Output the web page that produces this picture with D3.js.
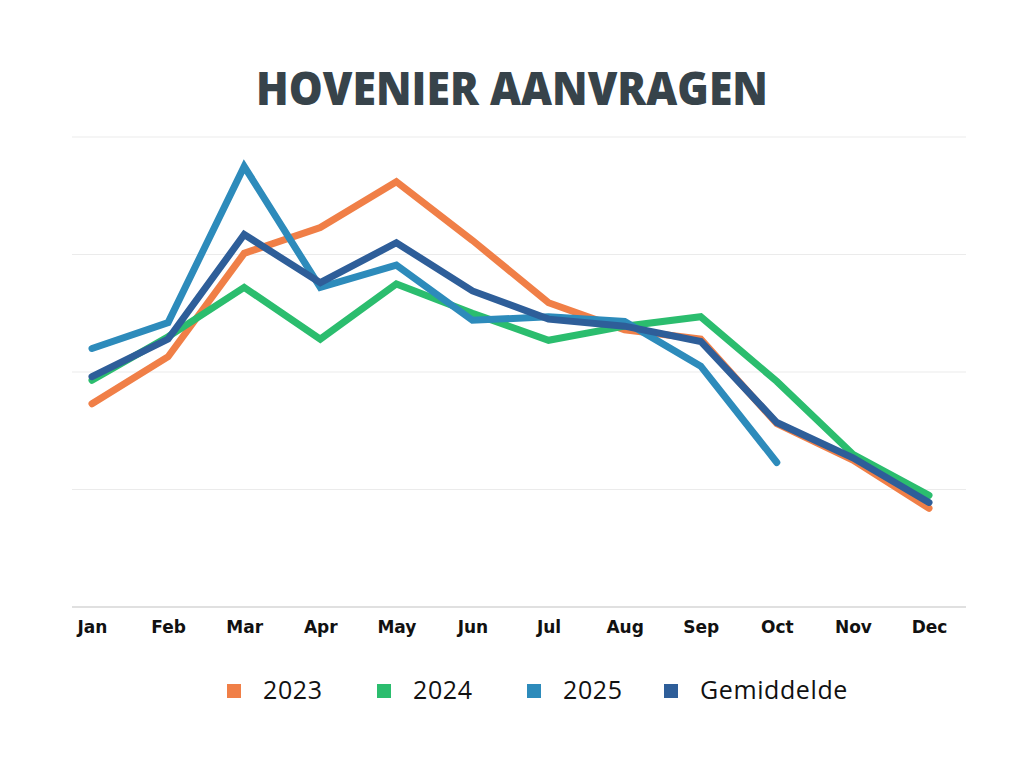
<!DOCTYPE html>
<html>
<head>
<meta charset="utf-8">
<script src="https://cdn.jsdelivr.net/npm/d3@7"></script>
<style>
  html, body { margin: 0; padding: 0; background: #fff; }
  svg { display: block; }
</style>
</head>
<body>
<svg id="chart" width="1024" height="768"></svg>
<script>
const months = ['Jan', 'Feb', 'Mar', 'Apr', 'May', 'Jun', 'Jul', 'Aug', 'Sep', 'Oct', 'Nov', 'Dec'];
const values2023 = [17.3, 21.3, 30.1, 32.3, 36.2, 31.2, 25.9, 23.6, 22.8, 15.6, 12.5, 8.4];
const values2024 = [19.3, 23.0, 27.2, 22.8, 27.5, 25.0, 22.7, 23.9, 24.7, 19.2, 13.0, 9.5];
const values2025 = [22.0, 24.2, 37.5, 27.2, 29.1, 24.4, 24.7, 24.3, 20.5, 12.3];
const valuesAvg = [19.6, 22.8, 31.7, 27.6, 31.0, 26.9, 24.5, 23.9, 22.6, 15.7, 12.7, 8.9];
const yTicks = [0, 10, 20, 30, 40];

const series = [
  {name: '2023', values: values2023, color: '#f07f47'},
  {name: '2024', values: values2024, color: '#2bbd6e'},
  {name: '2025', values: values2025, color: '#2d8bbb'},
  {name: 'Gemiddelde', values: valuesAvg, color: '#2e5e99'}
];

const svg = d3.select('#chart');

const x = d3.scalePoint().domain(months).range([92, 929]);
const y = d3.scaleLinear().domain([0, 40]).range([607, 137]);

// title
svg.append('text')
  .attr('x', 512)
  .attr('y', 105)
  .attr('text-anchor', 'middle')
  .attr('font-family', '"Open Sans", sans-serif')
  .attr('font-weight', 800)
  .attr('font-size', 46)
  .attr('fill', '#37434a')
  .attr('textLength', 512)
  .attr('lengthAdjust', 'spacingAndGlyphs')
  .text('HOVENIER AANVRAGEN');

// gridlines
svg.append('g')
  .selectAll('line')
  .data(yTicks.filter(d => d > 0))
  .join('line')
  .attr('x1', 72)
  .attr('x2', 966)
  .attr('y1', d => y(d))
  .attr('y2', d => y(d))
  .attr('stroke', '#ebebeb')
  .attr('stroke-width', 1);

// x axis
const xAxis = svg.append('g')
  .attr('transform', `translate(0, ${y(0)})`)
  .call(d3.axisBottom(x).tickSize(0).tickPadding(14));
xAxis.select('.domain').remove();
xAxis.append('line')
  .attr('x1', 72)
  .attr('x2', 966)
  .attr('stroke', '#d6d6d6')
  .attr('stroke-width', 1.5);
xAxis.selectAll('text')
  .attr('font-family', '"DejaVu Sans", sans-serif')
  .attr('font-weight', 700)
  .attr('font-size', 17)
  .attr('fill', '#111');

// lines
const line = d3.line()
  .x((d, i) => x(months[i]))
  .y(d => y(d));

svg.append('g')
  .selectAll('path')
  .data(series)
  .join('path')
  .attr('d', d => line(d.values))
  .attr('fill', 'none')
  .attr('stroke', d => d.color)
  .attr('stroke-width', 7)
  .attr('stroke-linecap', 'round')
  .attr('stroke-linejoin', 'miter');

// legend
const legendX = [227, 377, 527, 664];
const legend = svg.append('g')
  .selectAll('g')
  .data(series)
  .join('g')
  .attr('transform', (d, i) => `translate(${legendX[i]}, 684)`);
legend.append('rect')
  .attr('width', 14)
  .attr('height', 14)
  .attr('fill', d => d.color);
legend.append('text')
  .attr('x', 36)
  .attr('y', 15)
  .attr('font-family', '"Open Sans", sans-serif')
  .attr('font-size', 25)
  .attr('letter-spacing', 0.6)
  .attr('fill', '#111')
  .text(d => d.name);
</script>
</body>
</html>
